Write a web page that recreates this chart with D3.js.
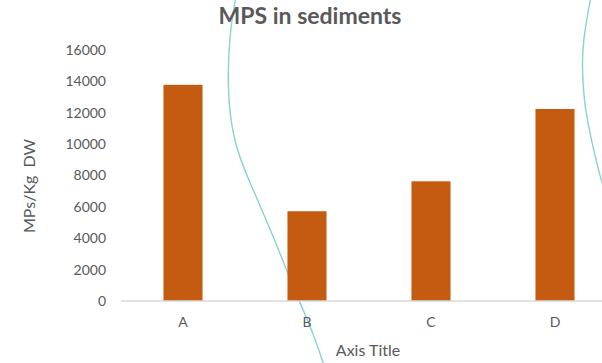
<!DOCTYPE html>
<html>
<head>
<meta charset="utf-8">
<script src="https://cdn.jsdelivr.net/npm/d3@7"></script>
<style>
  html, body { margin: 0; padding: 0; background: #fff; }
  svg { display: block; }
  text { font-family: Lato, "Open Sans", sans-serif; fill: #595959; }
</style>
</head>
<body>
<svg id="chart" width="602" height="363"></svg>
<script>
// Sediment microplastic counts per site
const categories = ["A", "B", "C", "D"];
const values = [13780, 5720, 7630, 12240];
const yTicks = [0, 2000, 4000, 6000, 8000, 10000, 12000, 14000, 16000];
const chartTitle = "MPS in sediments";
const yTitle = "MPs/Kg  DW";
const xTitle = "Axis Title";

// Decorative background swirls (slide theme)
const swirlLeft = [[236, -4], [229.5, 33], [227.5, 83], [230, 117], [236.5, 150], [250, 183],
                   [265, 217], [280, 253], [293, 287], [302, 307], [313, 333], [325, 368]];
const swirlRight = [[591, -4], [583, 40], [582, 67], [584, 100], [588, 125], [600, 178], [608, 200]];

const W = 602, H = 363;
const svg = d3.select("#chart");

const x = d3.scaleBand()
  .domain(categories)
  .range([121, 617])
  .paddingInner(0.685)
  .paddingOuter(0.3425);

const y = d3.scaleLinear()
  .domain([0, 16000])
  .range([301, 50]);

// background swirls
const swirl = d3.line().curve(d3.curveBasis);
svg.append("g")
  .selectAll("path")
  .data([swirlLeft, swirlRight])
  .join("path")
  .attr("d", swirl)
  .attr("fill", "none")
  .attr("stroke", "#86d3cf")
  .attr("stroke-width", 1.4);

// bars
svg.append("g")
  .selectAll("rect")
  .data(values)
  .join("rect")
  .attr("x", (d, i) => x(categories[i]))
  .attr("y", d => y(d))
  .attr("width", x.bandwidth())
  .attr("height", d => y(0) - y(d))
  .attr("fill", "#c55a11");

// y axis labels
const yAxis = d3.axisLeft(y).tickValues(yTicks).tickSize(0).tickPadding(0).tickFormat(d3.format("d"));
const gy = svg.append("g").attr("transform", "translate(106,0)").call(yAxis);
gy.select(".domain").remove();
gy.selectAll("text")
  .style("font-size", "14px")
  .style("fill", "#595959")
  .style("font-family", "Lato, sans-serif");

// x axis baseline and labels
const xAxis = d3.axisBottom(x).tickSize(0).tickPadding(16);
const gx = svg.append("g").attr("transform", `translate(0,${y(0)})`).call(xAxis);
gx.select(".domain").remove();
gx.selectAll("text")
  .style("font-size", "14px")
  .style("fill", "#595959")
  .style("font-family", "Lato, sans-serif");
svg.append("line")
  .attr("x1", 121).attr("x2", W)
  .attr("y1", y(0)).attr("y2", y(0))
  .attr("stroke", "#d9d9d9")
  .attr("stroke-width", 1.5);

// titles
svg.append("text")
  .attr("x", 310).attr("y", 24)
  .attr("text-anchor", "middle")
  .style("font-size", "23px")
  .style("font-weight", "bold")
  .text(chartTitle);

svg.append("text")
  .attr("transform", "translate(35,186) rotate(-90)")
  .attr("text-anchor", "middle")
  .attr("xml:space", "preserve")
  .style("white-space", "pre")
  .style("font-size", "16px")
  .text(yTitle);

svg.append("text")
  .attr("x", 368).attr("y", 356)
  .attr("text-anchor", "middle")
  .style("font-size", "16px")
  .text(xTitle);
</script>
</body>
</html>
